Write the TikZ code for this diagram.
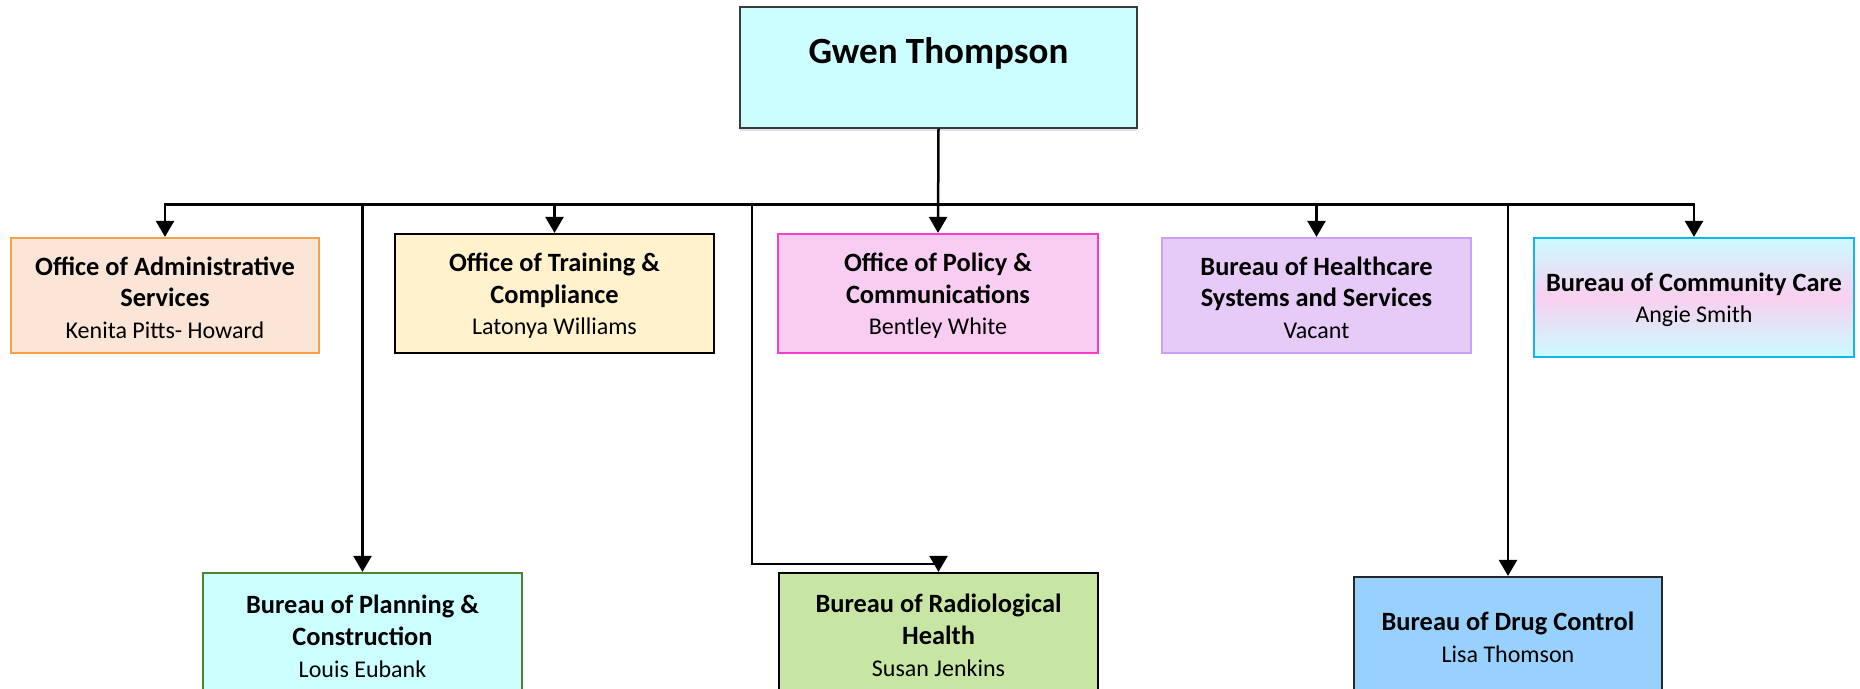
\documentclass[tikz,border=0pt]{standalone}
\usepackage{fontspec}
\setmainfont{Carlito}
\usetikzlibrary{arrows.meta,shadows,calc}
\definecolor{gwenfill}{HTML}{CCFDFF}
\definecolor{gwendraw}{HTML}{3A3A3A}
\definecolor{adminfill}{HTML}{FBE5D6}
\definecolor{admindraw}{HTML}{F7A04A}
\definecolor{trainfill}{HTML}{FFF2CC}
\definecolor{policyfill}{HTML}{F9CCF1}
\definecolor{policydraw}{HTML}{F53FCB}
\definecolor{healthfill}{HTML}{E6CAF7}
\definecolor{healthdraw}{HTML}{C9A2F5}
\definecolor{commcyan}{HTML}{CCFBFF}
\definecolor{commpink}{HTML}{F8D0F0}
\definecolor{commdraw}{HTML}{14B4EE}
\definecolor{planfill}{HTML}{CCFFFF}
\definecolor{plandraw}{HTML}{548235}
\definecolor{radfill}{HTML}{C8E6A3}
\definecolor{drugfill}{HTML}{98D1FD}
\newcommand\ttl[1]{{\fontsize{13.2}{15.8}\selectfont\bfseries #1}}
\newcommand\topstrut{\rule{0pt}{11.5pt}}
\begin{document}
\begin{tikzpicture}[x=0.5pt,y=-0.5pt,
  box/.style={rectangle, inner sep=0pt, align=center, line width=1.1pt,
    font=\fontsize{12}{15.8}\selectfont},
  conn/.style={line width=1.25pt, line join=miter},
  tip/.style={-{Triangle[width=9pt,length=8pt]}}]
\useasboundingbox (0,0) rectangle (1860,689);
\clip (0,0) rectangle (1860,689);
\fill[white] (0,0) rectangle (1860,689);

% top box
\node[box, draw=gwendraw, fill=gwenfill, line width=0.6pt,
  minimum width=198.5pt, minimum height=60.5pt,
  drop shadow={shadow xshift=0pt, shadow yshift=-1.5pt, opacity=0.18, fill=blue!25!gray}]
  (gwen) at (938.5,67.5) {};
\node[font=\fontsize{18.5}{22}\selectfont\bfseries] (gwentext) at (938.5,53) {Gwen Thompson};

% first row
\node[box, draw=admindraw, fill=adminfill, minimum width=154pt, minimum height=57.5pt]
  (admin) at (165,295.5) {\topstrut\ttl{Office of Administrative}\\\ttl{Services}\\Kenita Pitts- Howard};
\node[box, draw=black, fill=trainfill, minimum width=159.5pt, minimum height=59.5pt]
  (train) at (554.5,293.5) {\topstrut\ttl{Office of Training \&}\\\ttl{Compliance}\\Latonya Williams};
\node[box, draw=policydraw, fill=policyfill, minimum width=160pt, minimum height=59.5pt]
  (policy) at (938,293.5) {\topstrut\ttl{Office of Policy \&}\\\ttl{Communications}\\Bentley White};
\node[box, draw=healthdraw, fill=healthfill, minimum width=154.5pt, minimum height=57.5pt]
  (health) at (1316.5,295.5) {\topstrut\ttl{Bureau of Healthcare}\\\ttl{Systems and Services}\\Vacant};
\node[box, draw=commdraw, top color=commcyan, bottom color=commcyan, middle color=commpink,
  minimum width=160pt, minimum height=59.5pt]
  (comm) at (1694,297.5) {\topstrut\ttl{Bureau of Community Care}\\Angie Smith};

% second row
\node[box, draw=plandraw, fill=planfill, minimum width=159.5pt, minimum height=61pt]
  (plan) at (362.5,634) {\topstrut\ttl{Bureau of Planning \&}\\\ttl{Construction}\\Louis Eubank};
\node[box, draw=black, fill=radfill, minimum width=159.5pt, minimum height=60pt]
  (rad) at (938.5,633) {\topstrut\ttl{Bureau of Radiological}\\\ttl{Health}\\Susan Jenkins};
\node[box, draw=black!85, fill=drugfill, minimum width=154pt, minimum height=58pt]
  (drug) at (1508,635) {\topstrut\ttl{Bureau of Drug Control}\\Lisa Thomson};

% bus
\coordinate (busY) at (0,204.5);
\coordinate (radtap) at (752,204.5);
\coordinate (radbend) at (752,564);
\coordinate (radjoin) at (938.5,564);
\coordinate (radtipstart) at (938.5,557);

\draw[conn, tip] (gwen.south) -- (policy.north);
\draw[conn, {Triangle[width=9pt,length=8pt]}-{Triangle[width=9pt,length=8pt]}]
  (admin.north) |- (comm.north |- busY) -- (comm.north);
\draw[conn, tip] (train.north |- busY) -- (train.north);
\draw[conn, tip] (health.north |- busY) -- (health.north);
\draw[conn, tip] (plan.north |- busY) -- (plan.north);
\draw[conn, tip] (drug.north |- busY) -- (drug.north);
\draw[conn] (radtap) -- (radbend) -- (radjoin);
\draw[conn, tip] (radtipstart) -- (rad.north);
\end{tikzpicture}
\end{document}
